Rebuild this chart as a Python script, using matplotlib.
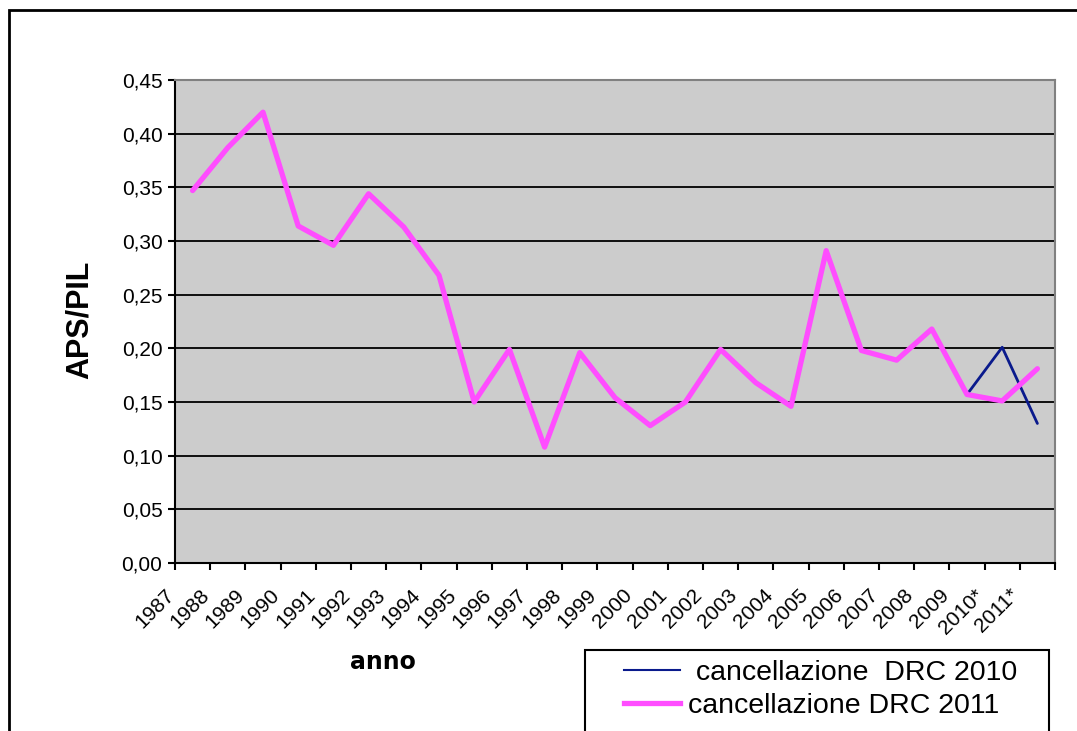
import matplotlib.pyplot as plt
import matplotlib.transforms as mtransforms
from matplotlib.patches import Rectangle
from matplotlib.lines import Line2D
import numpy as np

years = ["1987", "1988", "1989", "1990", "1991", "1992", "1993", "1994", "1995",
         "1996", "1997", "1998", "1999", "2000", "2001", "2002", "2003", "2004",
         "2005", "2006", "2007", "2008", "2009", "2010*", "2011*"]
drc_2010 = [0.347, 0.387, 0.420, 0.314, 0.296, 0.344, 0.313, 0.268, 0.150,
            0.199, 0.108, 0.196, 0.154, 0.128, 0.150, 0.199, 0.168, 0.146,
            0.291, 0.198, 0.189, 0.218, 0.157, 0.201, 0.130]
drc_2011 = [0.347, 0.387, 0.420, 0.314, 0.296, 0.344, 0.313, 0.268, 0.150,
            0.199, 0.108, 0.196, 0.154, 0.128, 0.150, 0.199, 0.168, 0.146,
            0.291, 0.198, 0.189, 0.218, 0.157, 0.151, 0.181]
y_ticks = [0.00, 0.05, 0.10, 0.15, 0.20, 0.25, 0.30, 0.35, 0.40, 0.45]
series_names = [" cancellazione  DRC 2010", "cancellazione DRC 2011"]

plt.rcParams['font.family'] = ['Liberation Sans', 'DejaVu Sans']

W, H = 1077, 731
fig = plt.figure(figsize=(W / 100, H / 100), dpi=100)
ax = fig.add_axes([175 / W, 1 - 563 / H, (1055 - 175) / W, (563 - 80) / H])
ax.set_facecolor('#CCCCCC')

x = np.arange(len(years))
ax.plot(x, drc_2010, color='#0A1A8C', lw=2.0, solid_capstyle='round', zorder=3)
ax.plot(x, drc_2011, color='#FF4DFF', lw=3.8, solid_capstyle='round', zorder=4)

ax.set_xlim(-0.5, len(years) - 0.5)
ax.set_ylim(0, 0.45)
ax.set_yticks(y_ticks)
ax.set_yticklabels([f"{v:.2f}".replace('.', ',') for v in y_ticks], fontsize=15)
ax.yaxis.grid(True, color='black', lw=1.3)
ax.set_axisbelow(True)

ax.set_xticks(x)
ax.set_xticklabels(years, fontsize=15, rotation=45, ha='right', va='top',
                   rotation_mode='anchor')
ax.set_xticks(np.arange(len(years) + 1) - 0.5, minor=True)
ax.tick_params(axis='x', which='major', length=0, pad=16)
ax.tick_params(axis='x', which='minor', length=5, width=1.5, direction='out')
ax.tick_params(axis='y', length=5, width=1.5, direction='out', pad=4)
offset = mtransforms.ScaledTranslation(-0.28, 0, fig.dpi_scale_trans)
for lbl in ax.get_xticklabels():
    lbl.set_transform(lbl.get_transform() + offset)

for side in ['left', 'bottom']:
    ax.spines[side].set_color('black')
    ax.spines[side].set_linewidth(1.5)
for side in ['top', 'right']:
    ax.spines[side].set_color('#808080')
    ax.spines[side].set_linewidth(1.5)

fig.text(80 / W, 1 - 320 / H, "APS/PIL", rotation=90, fontsize=22,
         fontweight='bold', ha='center', va='center')
fig.text(383 / W, 1 - 662 / H, "anno", fontsize=17, fontweight='bold',
         family='DejaVu Sans', ha='center', va='center')

# outer chart border
fig.patches.append(Rectangle((9 / W, -0.1), 1.2, 1 - 10 / H + 0.1,
                             transform=fig.transFigure, fill=False,
                             edgecolor='black', lw=2))

# legend frame (runs off the bottom edge like the original)
fig.patches.append(Rectangle((585 / W, -0.05), (1049 - 585) / W, 0.05 + 1 - 650 / H,
                             transform=fig.transFigure, facecolor='white',
                             edgecolor='black', lw=1.5, zorder=5))
handles = [Line2D([], [], color='#0A1A8C', lw=1.5),
           Line2D([], [], color='#FF4DFF', lw=3.8)]
leg = fig.legend(handles, series_names,
                 loc='upper left', bbox_to_anchor=(624 / W, 1 - 660 / H),
                 fontsize=20.5, frameon=False, borderpad=0, handlelength=1.95,
                 handletextpad=0.3, labelspacing=0.25, borderaxespad=0)
leg.set_zorder(6)

fig.savefig("out.png", dpi=100)
